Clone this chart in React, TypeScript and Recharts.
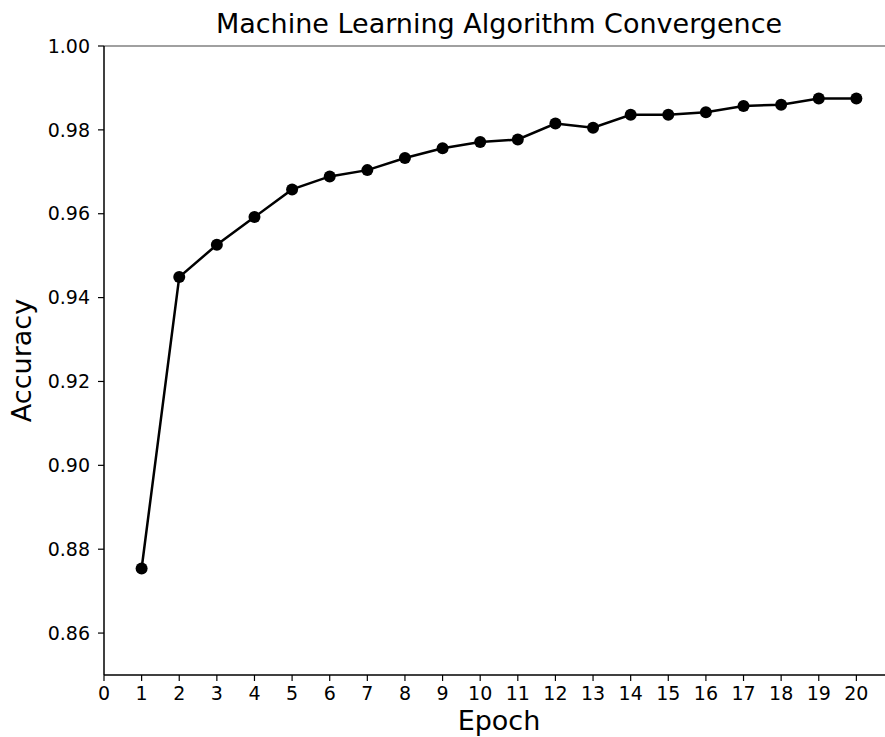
import React from 'react';
import { LineChart, Line, XAxis, YAxis, ReferenceLine } from 'recharts';

const epochs = [1, 2, 3, 4, 5, 6, 7, 8, 9, 10, 11, 12, 13, 14, 15, 16, 17, 18, 19, 20];
const accuracy = [0.8754, 0.9449, 0.9526, 0.9592, 0.9658, 0.9689, 0.9704, 0.9733, 0.9756, 0.9771, 0.9777, 0.9815, 0.9805, 0.9836, 0.9836, 0.9842, 0.9857, 0.9860, 0.9875, 0.9875];
const xTicks = [0, 1, 2, 3, 4, 5, 6, 7, 8, 9, 10, 11, 12, 13, 14, 15, 16, 17, 18, 19, 20];
const yTicks = [0.86, 0.88, 0.9, 0.92, 0.94, 0.96, 0.98, 1.0];

const data = epochs.map((e, i) => ({ epoch: e, acc: accuracy[i] }));

const FONT = 'DejaVu Sans';

const EpochLabel = (props: any) => {
  const vb = props.viewBox;
  return (
    <text x={vb.x + vb.width / 2} y={vb.y + 55} textAnchor="middle" fontFamily={FONT} fontSize={27} fill="#000">
      Epoch
    </text>
  );
};

const AccLabel = (props: any) => {
  const vb = props.viewBox;
  const x = 31;
  const y = vb.y + vb.height / 2;
  return (
    <text x={x} y={y} transform={`rotate(-90, ${x}, ${y})`} textAnchor="middle" fontFamily={FONT} fontSize={27} fill="#000">
      Accuracy
    </text>
  );
};

export default function App() {
  return (
    <div style={{ position: 'absolute', left: 0, top: 0, width: 885, height: 737, overflow: 'hidden', background: '#fff' }}>
      <svg width={885} height={44} style={{ position: 'absolute', left: 0, top: 0 }}>
        <text x={499} y={33} textAnchor="middle" fontFamily={FONT} fontSize={27} fill="#000">
          Machine Learning Algorithm Convergence
        </text>
      </svg>
      <LineChart width={894} height={737} data={data} margin={{ top: 46, right: 0, bottom: 0, left: 0 }}>
        <ReferenceLine y={1.0} stroke="#808080" strokeWidth={1.5} ifOverflow="visible" />
        <XAxis
          type="number"
          dataKey="epoch"
          domain={[0, 21]}
          ticks={xTicks}
          allowDataOverflow
          height={62}
          tickSize={6}
          tickMargin={6}
          axisLine={{ stroke: '#000', strokeWidth: 1.5 }}
          tickLine={{ stroke: '#000', strokeWidth: 1.2 }}
          tick={{ fill: '#000', fontSize: 19, fontFamily: FONT }}
          interval={0}
          label={<EpochLabel />}
        />
        <YAxis
          type="number"
          domain={[0.85, 1.0]}
          ticks={yTicks}
          allowDataOverflow
          width={104}
          tickSize={6}
          tickMargin={8}
          tickFormatter={(v: number) => v.toFixed(2)}
          axisLine={{ stroke: '#000', strokeWidth: 1.5 }}
          tickLine={{ stroke: '#000', strokeWidth: 1.2 }}
          tick={{ fill: '#000', fontSize: 19, fontFamily: FONT }}
          interval={0}
          label={<AccLabel />}
        />
        <Line
          type="linear"
          dataKey="acc"
          stroke="#000"
          strokeWidth={2.5}
          dot={{ r: 6, fill: '#000', stroke: 'none' }}
          activeDot={false}
          isAnimationActive={false}
        />
      </LineChart>
    </div>
  );
}
